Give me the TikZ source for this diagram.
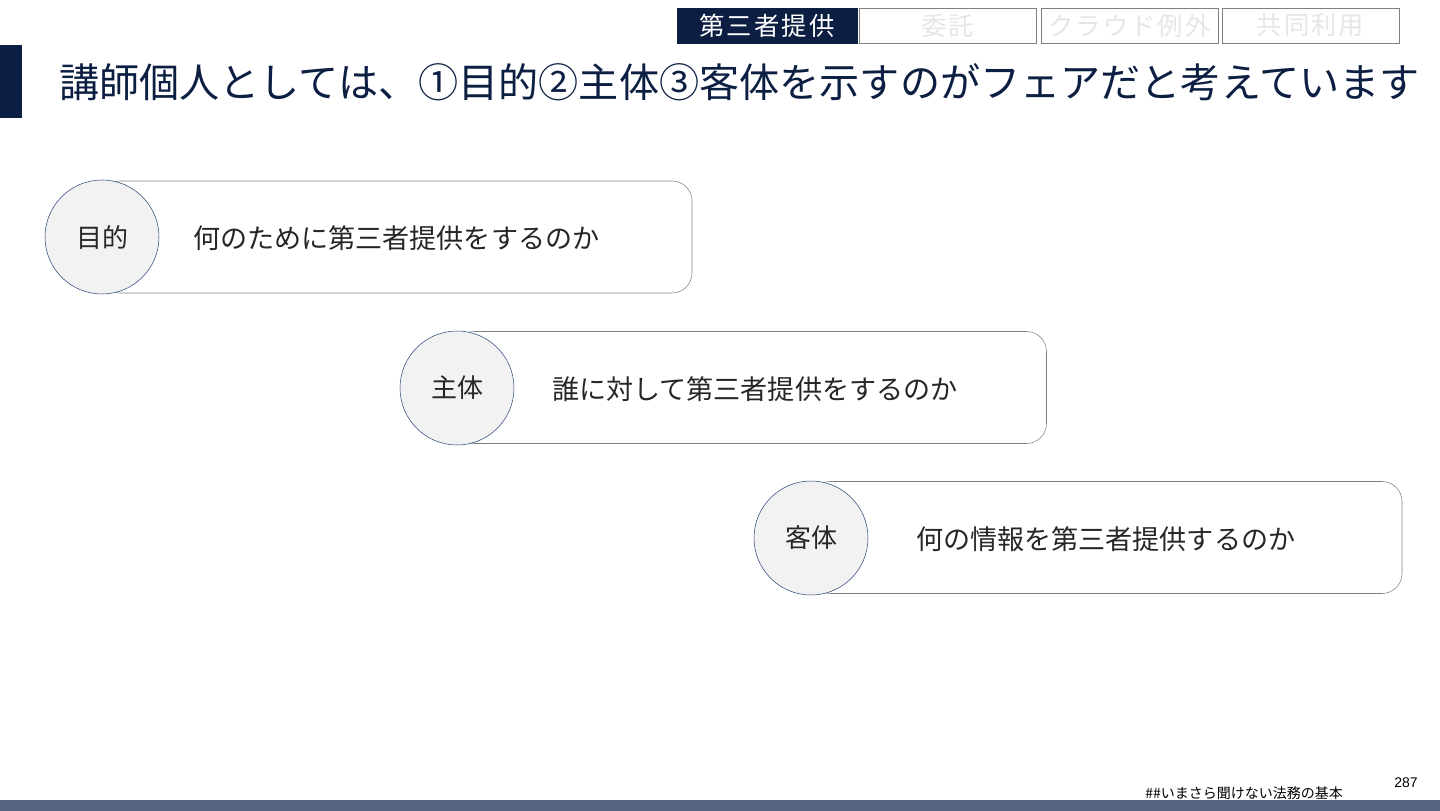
\documentclass[tikz,border=0pt]{standalone}
\usepackage{fontspec}
\setmainfont{Noto Sans CJK JP}
\newfontfamily\numfont{Liberation Sans}
\newfontfamily\tabfont[LetterSpace=8]{Noto Sans CJK JP}
\usepackage{tikz}

\definecolor{navy}{HTML}{0C1E42}
\definecolor{ringblue}{HTML}{2F4A7A}
\definecolor{boxgray}{HTML}{7F7F7F}
\definecolor{fillgray}{HTML}{F2F2F2}
\definecolor{paletab}{HTML}{E6E6E6}
\definecolor{footbar}{HTML}{54647F}

\tikzset{
  tabon/.style={fill=navy, draw=navy, text=white, minimum width=135pt, minimum height=26pt, inner sep=0pt, font=\tabfont\fontsize{19}{19}\selectfont},
  taboff/.style={fill=white, draw=boxgray, text=paletab, minimum width=133pt, minimum height=26pt, inner sep=0pt, font=\tabfont\fontsize{19}{19}\selectfont},
  descbox/.style={draw=boxgray, rounded corners=15pt, minimum width=444pt, minimum height=84pt, inner sep=0pt},
  circ/.style={shape=circle, draw=ringblue, fill=fillgray, minimum size=85.5pt, inner sep=0pt, font=\fontsize{19.5}{19.5}\selectfont, text=black!85},
  desc/.style={anchor=west, inner sep=0pt, font=\fontsize{20.3}{20.3}\selectfont, text=black!85}
}

\begin{document}
\begin{tikzpicture}[x=0.75pt, y=-0.75pt]

	\useasboundingbox (0,0) rectangle (1440,811);
	
	% tabs
	\node[tabon]  (t1) at (767, 25.5)  {第三者提供};
	\node[taboff] (t2) at (948, 25.5)  {委託};
	\node[taboff] (t3) at (1129.5, 25.5) {クラウド例外};
	\node[taboff] (t4) at (1310.5, 25.5) {共同利用};
	
	% title
	\fill[navy] (0,45) rectangle (22,118);
	\node[anchor=base west, inner sep=0pt, text=navy, font=\fontsize{30.1}{30.1}\selectfont] (title) at (59, 97)
	    {講師個人としては、①目的②主体③客体を示すのがフェアだと考えています};
	
	% boxes
	\node[descbox] (b1) at (396, 237)  {};
	\node[descbox] (b2) at (750.5, 387.5) {};
	\node[descbox] (b3) at (1106, 537.5) {};
	
	\node[circ] (c1) at (102, 237)   {目的};
	\node[circ] (c2) at (457, 388)   {主体};
	\node[circ] (c3) at (811, 538)   {客体};
	
	\node[desc] (d1) at (193, 238)   {何のために第三者提供をするのか};
	\node[desc] (d2) at (552, 389)   {誰に対して第三者提供をするのか};
	\node[desc] (d3) at (916, 539)   {何の情報を第三者提供するのか};
	
	% footer
	\fill[footbar] (0,800) rectangle (1440,811);
	\node[anchor=base west, inner sep=0pt, font=\fontsize{10.5}{10.5}\selectfont] (foot) at (1145, 798) {\#\#いまさら聞けない法務の基本};
	\node[anchor=base west, inner sep=0pt, font=\numfont\fontsize{10.5}{10.5}\selectfont] (page) at (1394, 787) {287};
	
\end{tikzpicture}
\end{document}
